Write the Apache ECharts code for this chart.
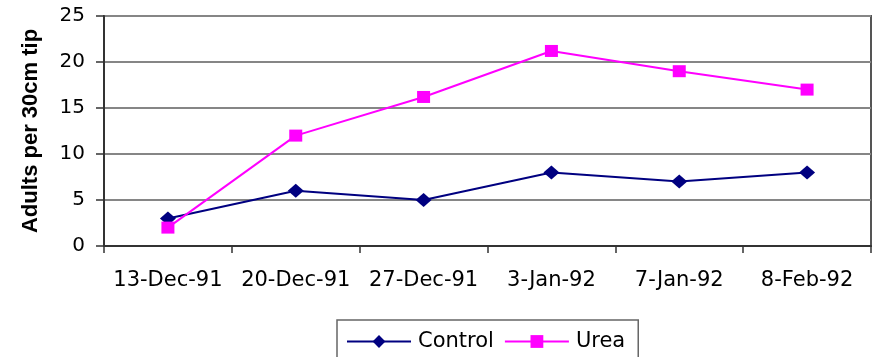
<!DOCTYPE html>
<html>
<head>
<meta charset="utf-8">
<script src="https://cdn.jsdelivr.net/npm/echarts@6/dist/echarts.min.js"></script>
<style>
  html, body { margin: 0; padding: 0; background: #ffffff; }
  #chart { width: 875px; height: 357px; }
</style>
</head>
<body>
<div id="chart"></div>
<script>
// Sampling dates (category axis)
const dates = ['13-Dec-91', '20-Dec-91', '27-Dec-91', '3-Jan-92', '7-Jan-92', '8-Feb-92'];
// Adults per 30cm tip, by treatment
const controlValues = [3, 6, 5, 8, 7, 8];
const ureaValues = [2, 12, 16.2, 21.2, 19, 17];
// Value axis ticks
const yTicks = [0, 5, 10, 15, 20, 25];

const labelFont = 'DejaVu Sans';
const chart = echarts.init(document.getElementById('chart'), null, { renderer: 'canvas' });

chart.setOption({
  animation: false,
  backgroundColor: '#ffffff',
  grid: {
    left: 104, right: 4, top: 16, bottom: 111,
    show: true, borderColor: '#555555', borderWidth: 2, backgroundColor: '#ffffff'
  },
  legend: {
    data: ['Control', 'Urea'],
    left: 337, top: 320,
    padding: [11, 13, 30, 9],
    itemWidth: 64, itemHeight: 16, itemGap: 10,
    borderColor: '#666666', borderWidth: 1.5,
    textStyle: { fontFamily: labelFont, fontSize: 21, color: '#000000', padding: [0, 0, 0, 2] }
  },
  xAxis: {
    type: 'category',
    data: dates,
    boundaryGap: true,
    axisLine: { lineStyle: { color: '#333333', width: 2 } },
    axisTick: { show: true, alignWithLabel: false, length: 7, lineStyle: { color: '#333333', width: 1.5 } },
    axisLabel: { interval: 0, margin: 24, fontFamily: labelFont, fontSize: 21, color: '#000000' },
    splitLine: { show: false }
  },
  yAxis: {
    type: 'value',
    min: yTicks[0], max: yTicks[yTicks.length - 1], interval: yTicks[1] - yTicks[0],
    name: 'Adults per 30cm tip',
    nameLocation: 'middle',
    nameGap: 62,
    nameTextStyle: { fontFamily: 'Liberation Sans', fontWeight: 'bold', fontSize: 22, color: '#000000' },
    axisLine: { show: true, lineStyle: { color: '#333333', width: 2 } },
    axisTick: { show: true, length: 8, lineStyle: { color: '#333333', width: 1.5 } },
    axisLabel: { margin: 19, fontFamily: labelFont, fontSize: 20, color: '#000000' },
    splitLine: { show: true, lineStyle: { color: '#868686', width: 2 } }
  },
  series: [
    {
      name: 'Control', type: 'line', data: controlValues,
      symbol: 'diamond', symbolSize: [16, 14],
      lineStyle: { color: '#000080', width: 2 },
      itemStyle: { color: '#000080' }
    },
    {
      name: 'Urea', type: 'line', data: ureaValues,
      symbol: 'rect', symbolSize: [13, 12],
      lineStyle: { color: '#ff00ff', width: 2 },
      itemStyle: { color: '#ff00ff' }
    }
  ]
});
</script>
</body>
</html>
